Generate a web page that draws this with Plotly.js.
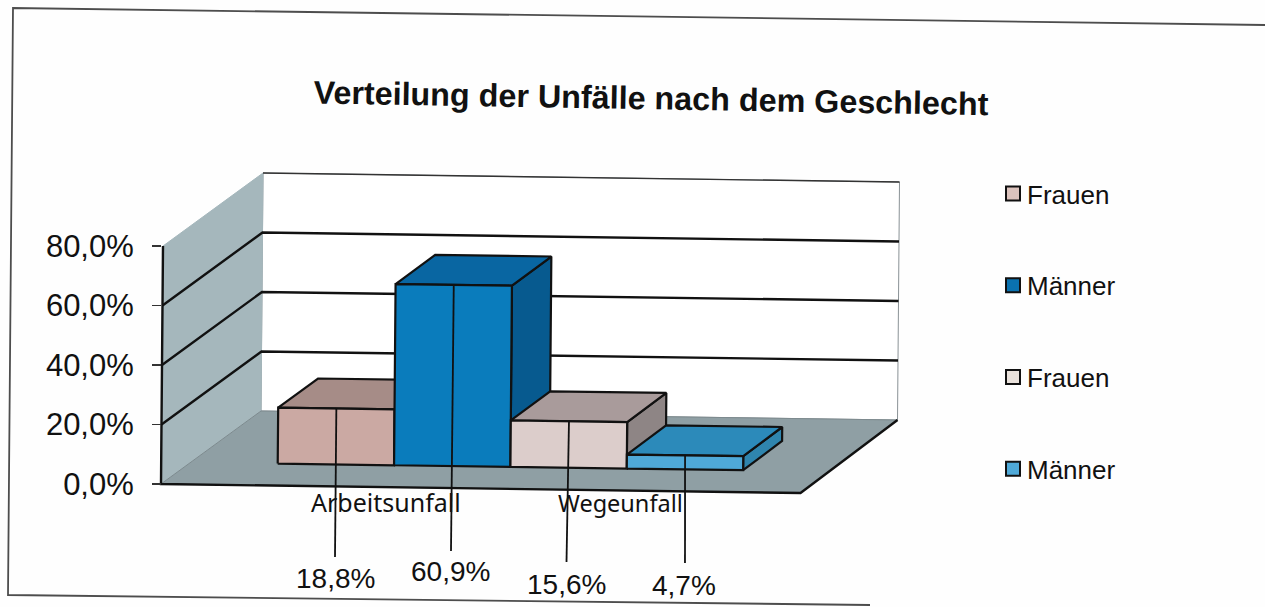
<!DOCTYPE html>
<html>
<head>
<meta charset="utf-8">
<script src="https://cdn.plot.ly/plotly-3.0.1.min.js"></script>
<style>html,body{margin:0;padding:0;background:#fefefe;overflow:hidden}</style>
</head>
<body>
<div id="chart" style="width:1265px;height:607px"></div>
<script>
// ---- data ----
const chartTitle = 'Verteilung der Unfälle nach dem Geschlecht';
const categories = ['Arbeitsunfall', 'Wegeunfall'];
const seriesNames = ['Frauen', 'Männer', 'Frauen', 'Männer'];
const barValues = [18.8, 60.9, 15.6, 4.7];
const barLabels = ['18,8%', '60,9%', '15,6%', '4,7%'];
const axisTicks = [0, 20, 40, 60, 80];
const axisTickLabels = ['0,0%', '20,0%', '40,0%', '60,0%', '80,0%'];

// ---- colours ----
const frontColors = ['#CBA9A3', '#0A7CBC', '#DCCDCB', '#4FA9D8'];
const topColors = ['#A68C87', '#0966A2', '#A99B9B', '#2C8ABA'];
const sideColors = ['#8C7672', '#075A8F', '#8E8585', '#2F85AE'];
const legendColors = ['#DCC3BD', '#0A72B0', '#EAE2DC', '#4FA9D8'];
const ink = '#111111';

// ---- projection of the tilted 3D frame onto the scanned page (u: along width, v: percent, d: depth) ----
const PX_PER_PCT = 2.975;
const project = (u, v, d) => ({
  x: 161 + 639.5 * u + (100 - 3 * u) * d + 0.025 * v,
  y: 484 + 9 * u - 73 * d - PX_PER_PCT * v
});
const xOf = p => p.x;
const vOf = p => (484 - p.y) / PX_PER_PCT; // page position back to the y-axis scale

function poly(points, fill, lineColor, lineWidth, close) {
  const pts = points.map(a => project(a[0], a[1], a[2]));
  if (close) pts.push(pts[0]);
  return {
    type: 'scatter', mode: 'lines',
    x: pts.map(xOf), y: pts.map(vOf),
    fill: fill ? 'toself' : 'none', fillcolor: fill || undefined,
    line: { color: lineColor, width: lineWidth },
    hoverinfo: 'skip', showlegend: false
  };
}

const traces = [];
const maxV = 80;
// walls and floor
traces.push(poly([[0,0,1],[1,0,1],[1,maxV,1],[0,maxV,1]], '#FFFFFF', '#8a9296', 1, true));
traces.push(poly([[0,0,0],[0,0,1],[0,maxV,1],[0,maxV,0]], '#A5B7BC', '#A5B7BC', 1, true));
traces.push(poly([[0,0,0],[1,0,0],[1,0,1],[0,0,1]], '#8F9FA4', '#7d8a8e', 1, true));
// gridlines
axisTicks.filter(t => t > 0 && t < maxV).forEach(t => {
  traces.push(poly([[0,t,0],[0,t,1],[1,t,1]], null, ink, 2.4, false));
});
traces.push(poly([[0,maxV,1],[1,maxV,1]], null, '#333333', 1.4, false));
// axis line and floor edges
traces.push(poly([[0,maxV,0],[0,0,0],[1,0,0],[1,0,1]], null, ink, 2.4, false));

// bars
const gapU = 0.1364, barU = 0.1822, d0 = 0.296, d1 = 0.696;
const barStart = barValues.map((v, i) => gapU + i * barU);
barValues.forEach((v, i) => {
  const u0 = barStart[i], u1 = u0 + barU;
  traces.push(poly([[u1,0,d0],[u1,0,d1],[u1,v,d1],[u1,v,d0]], sideColors[i], ink, 2.2, true));
  traces.push(poly([[u0,v,d0],[u1,v,d0],[u1,v,d1],[u0,v,d1]], topColors[i], ink, 2.2, true));
  traces.push(poly([[u0,0,d0],[u1,0,d0],[u1,v,d0],[u0,v,d0]], frontColors[i], ink, 2.2, true));
});

// leader lines from bar tops down to their labels
const leaderEndY = [557, 551, 562, 563];
const leaderEndX = [335, 451, 566.5, 685];
barValues.forEach((v, i) => {
  const top = project(barStart[i] + barU / 2, v, d0);
  traces.push({
    type: 'scatter', mode: 'lines',
    x: [top.x, leaderEndX[i]], y: [vOf(top), (484 - leaderEndY[i]) / PX_PER_PCT],
    line: { color: ink, width: 1.8 }, hoverinfo: 'skip', showlegend: false
  });
});

// legend entries
seriesNames.forEach((name, i) => {
  traces.push({
    type: 'scatter', mode: 'markers', name: name,
    x: [null], y: [null], legendgroup: 'g' + i,
    marker: { symbol: 'square', size: 14, color: legendColors[i], line: { color: ink, width: 2 } },
    hoverinfo: 'skip'
  });
});

// texts
const labelCenterX = [335, 450, 566.5, 684];
const labelCenterY = [578, 571, 584, 585];
const categoryX = [386, 620];
const categoryY = [502, 503];
const categorySize = [25, 23.5];
const annotations = [];
barLabels.forEach((t, i) => annotations.push({
  text: t, xref: 'x', yref: 'paper', x: labelCenterX[i], y: 1 - labelCenterY[i] / 607,
  xanchor: 'center', yanchor: 'middle', showarrow: false,
  font: { family: 'Liberation Sans', size: 28, color: ink }
}));
categories.forEach((t, i) => annotations.push({
  text: t, xref: 'x', yref: 'paper', x: categoryX[i], y: 1 - categoryY[i] / 607,
  xanchor: 'center', yanchor: 'middle', showarrow: false,
  font: { family: 'Noto Sans', size: categorySize[i], color: ink }
}));

// scanned page frame
const frame = {
  type: 'path', xref: 'paper', yref: 'paper',
  path: 'M 1 ' + (1 - 25 / 607) + ' L ' + (13 / 1265) + ' ' + (1 - 8 / 607) +
        ' L ' + (8 / 1265) + ' ' + (1 - 595 / 607) + ' L ' + (870 / 1265) + ' ' + (1 - 605 / 607),
  line: { color: '#4d4d4d', width: 1.8 }
};

const layout = {
  width: 1265, height: 607,
  margin: { l: 0, r: 0, t: 0, b: 0 },
  paper_bgcolor: '#fefefe', plot_bgcolor: '#fefefe',
  font: { family: 'Liberation Sans', color: ink },
  title: {
    text: '<b>' + chartTitle + '</b>',
    font: { family: 'Liberation Sans', size: 32.3, color: ink },
    x: 651 / 1265, xanchor: 'center', y: 1 - 98 / 607, yanchor: 'middle'
  },
  xaxis: { range: [0, 1265], domain: [0, 1], visible: false, fixedrange: true },
  yaxis: {
    range: [(484 - 607) / PX_PER_PCT, 484 / PX_PER_PCT],
    domain: [0, 1], anchor: 'free', position: 161 / 1265,
    tickmode: 'array', tickvals: axisTicks, ticktext: axisTickLabels,
    ticks: 'outside', ticklen: 9, tickcolor: '#333', tickwidth: 1.5,
    tickfont: { family: 'Liberation Sans', size: 31, color: ink },
    ticklabelstandoff: 12,
    showgrid: false, zeroline: false, showline: false, fixedrange: true
  },
  showlegend: true,
  legend: {
    x: 987 / 1265, xanchor: 'left', y: 1 - 170 / 607, yanchor: 'top',
    bgcolor: 'rgba(0,0,0,0)', borderwidth: 0, tracegroupgap: 55,
    font: { family: 'Liberation Sans', size: 26, color: ink }
  },
  annotations: annotations,
  shapes: [frame]
};

Plotly.newPlot('chart', traces, layout, { staticPlot: true, displayModeBar: false }).then(() => {
  const t = document.querySelector('.gtitle');
  if (t) t.setAttribute('transform', 'rotate(1 651 98)');
  document.querySelectorAll('.legendsymbols').forEach(g => g.setAttribute('transform', 'translate(6,0)'));
});
</script>
</body>
</html>
